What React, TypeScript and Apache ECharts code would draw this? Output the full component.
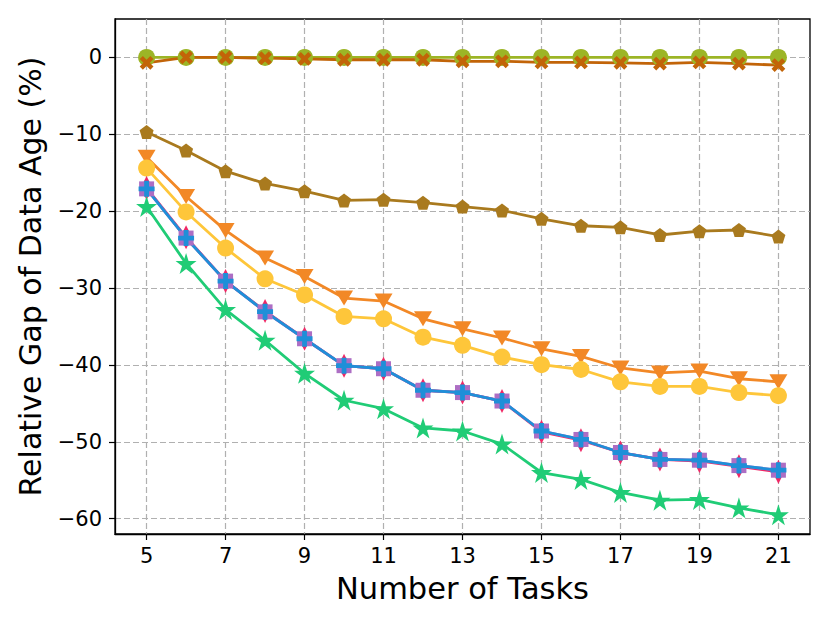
import React, { useEffect, useRef } from "react";
import * as echarts from "echarts";

const tasks = [5, 6, 7, 8, 9, 10, 11, 12, 13, 14, 15, 16, 17, 18, 19, 20, 21];
const xTickValues = [5, 7, 9, 11, 13, 15, 17, 19, 21];
const yTickValues = [-60, -50, -40, -30, -20, -10, 0];

const olivePts = [0, 0, 0, 0, 0, 0, 0, 0, 0, 0, 0, 0, 0, 0, 0, 0, 0];
const crossPts = [-0.7, 0, 0, -0.1, -0.2, -0.3, -0.3, -0.3, -0.5, -0.5, -0.65, -0.65, -0.7, -0.8, -0.65, -0.8, -1.0];
const pentagonPts = [-9.7, -12.1, -14.8, -16.4, -17.4, -18.6, -18.5, -18.9, -19.4, -19.9, -21.0, -21.9, -22.1, -23.1, -22.6, -22.45, -23.3];
const trianglePts = [-13.0, -18.1, -22.5, -26.1, -28.5, -31.3, -31.7, -34.0, -35.3, -36.5, -37.9, -38.9, -40.4, -41.05, -40.8, -41.8, -42.2];
const yellowPts = [-14.4, -20.1, -24.8, -28.8, -30.9, -33.7, -34.0, -36.4, -37.45, -38.98, -39.97, -40.6, -42.2, -42.8, -42.8, -43.6, -44.0];
const diamondPts = [-17.0, -23.4, -29.1, -33.0, -36.6, -40.1, -40.5, -43.3, -43.6, -44.7, -48.7, -49.8, -51.4, -52.3, -52.5, -53.2, -53.9];
const squarePts = [-17.1, -23.5, -29.1, -33.1, -36.6, -40.1, -40.5, -43.3, -43.6, -44.7, -48.6, -49.7, -51.4, -52.3, -52.4, -53.1, -53.7];
const plusPts = [-17.1, -23.5, -29.1, -33.07, -36.6, -40.1, -40.5, -43.3, -43.6, -44.7, -48.6, -49.7, -51.4, -52.3, -52.4, -53.1, -53.7];
const starPts = [-19.4, -26.8, -32.8, -36.8, -41.1, -44.6, -45.7, -48.2, -48.6, -50.3, -54.0, -54.9, -56.6, -57.6, -57.5, -58.6, -59.5];

const STAR = "path://M0,-100 L22.45,-30.9 L95.1,-30.9 L36.3,11.8 L58.8,80.9 L0,38.2 L-58.8,80.9 L-36.3,11.8 L-95.1,-30.9 L-22.45,-30.9 Z";
const PENTAGON = "path://M0,-100 L95.1,-30.9 L58.8,80.9 L-58.8,80.9 L-95.1,-30.9 Z";
const PLUS = "path://M35,0 H65 V35 H100 V65 H65 V100 H35 V65 H0 V35 H35 Z";

const FONT = "DejaVu Sans";

function pairs(vals: number[]) {
  return tasks.map((t, i) => [t, vals[i]]);
}

function mkSeries(name: string, vals: number[], color: string, symbol: string, size: any, extra: any = {}) {
  return {
    name,
    type: "line",
    data: pairs(vals),
    symbol,
    symbolSize: size,
    showAllSymbol: true,
    lineStyle: { color, width: 2.8 },
    itemStyle: { color, opacity: 1 },
    emphasis: { disabled: true },
    ...extra,
  };
}

export default function App() {
  const ref = useRef<HTMLDivElement>(null);
  useEffect(() => {
    if (!ref.current) return;
    const chart = echarts.init(ref.current, null, { renderer: "svg" });
    const minus = (v: number) => String(v).replace("-", "\u2212");
    chart.setOption({
      animation: false,
      backgroundColor: "#ffffff",
      grid: {
        left: 115,
        top: 19,
        right: 20,
        bottom: 89,
        show: true,
        borderColor: "#000000",
        borderWidth: 1.3,
        backgroundColor: "transparent",
      },
      xAxis: {
        type: "value",
        min: 4.2,
        max: 21.8,
        name: "Number of Tasks",
        nameLocation: "middle",
        nameGap: 39,
        nameTextStyle: { fontFamily: FONT, fontSize: 30.5, color: "#000" },
        axisLine: { show: true, onZero: false, lineStyle: { color: "#000", width: 1.3 } },
        axisTick: { show: true, length: 6, lineStyle: { color: "#000", width: 1.2 }, customValues: xTickValues },
        axisLabel: {
          customValues: xTickValues,
          fontFamily: FONT,
          fontSize: 21,
          color: "#000",
          margin: 11,
          formatter: (v: number) => minus(v),
        },
        splitLine: { show: true, lineStyle: { color: "#b0b0b0", width: 1.2, type: [6, 3] } },
      },
      yAxis: {
        type: "value",
        min: -62,
        max: 5,
        name: "Relative Gap of Data Age (%)",
        nameLocation: "middle",
        nameRotate: 90,
        nameGap: 70,
        nameTextStyle: { fontFamily: FONT, fontSize: 30, color: "#000" },
        axisLine: { show: true, onZero: false, lineStyle: { color: "#000", width: 1.3 } },
        axisTick: { show: true, length: 6, lineStyle: { color: "#000", width: 1.2 }, customValues: yTickValues },
        axisLabel: {
          customValues: yTickValues,
          fontFamily: FONT,
          fontSize: 21,
          color: "#000",
          margin: 13,
          formatter: (v: number) => minus(v),
        },
        splitLine: { show: true, lineStyle: { color: "#b0b0b0", width: 1.2, type: [6, 3] } },
      },
      series: [
        mkSeries("Circle (olive)", olivePts, "#9cb526", "circle", 17),
        mkSeries("Cross", crossPts, "#c26408", PLUS, 15, { symbolRotate: 45 }),
        mkSeries("Pentagon", pentagonPts, "#a97a1e", PENTAGON, 14),
        mkSeries("Triangle", trianglePts, "#f28826", "triangle", [18, 15], { symbolRotate: 180 }),
        mkSeries("Circle (yellow)", yellowPts, "#fec63a", "circle", 17),
        mkSeries("Diamond", diamondPts, "#f02866", "diamond", [12, 24]),
        mkSeries("Square", squarePts, "#ad6ec4", "rect", 15),
        mkSeries("Plus", plusPts, "#1f8fd8", PLUS, 16),
        mkSeries("Star", starPts, "#20cc76", STAR, 21),
      ],
    });
    return () => chart.dispose();
  }, []);
  return (
    <div
      ref={ref}
      style={{ position: "fixed", left: 0, top: 0, width: 830, height: 623, background: "#fff" }}
    />
  );
}
